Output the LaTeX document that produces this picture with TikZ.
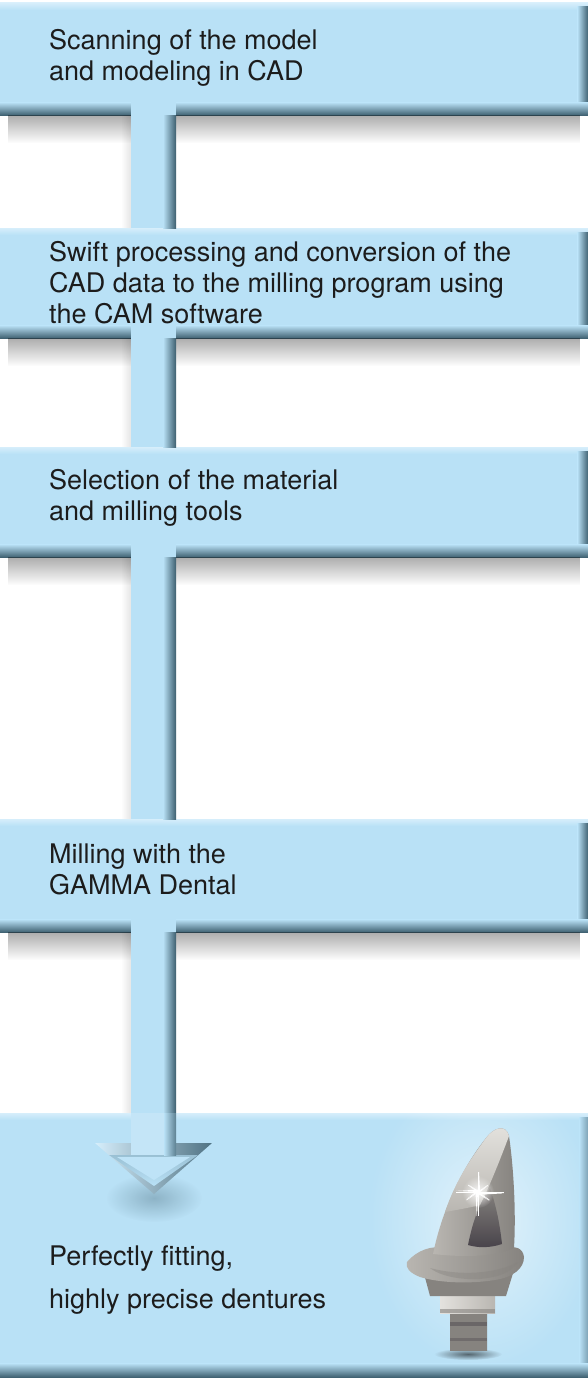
\documentclass[tikz,border=0pt]{standalone}
\usepackage{fontspec}
\setmainfont{TeX Gyre Heros}
\usetikzlibrary{calc,fadings}
\definecolor{boxblue}{HTML}{B9E1F6}
\definecolor{boxlight}{HTML}{D6EEFB}
\definecolor{edgedark}{HTML}{3D5F6F}
\definecolor{txtcol}{HTML}{1C1C1C}
\definecolor{mlight}{HTML}{E4E2DE}
\definecolor{mmid}{HTML}{B9B6B1}
\definecolor{mdark}{HTML}{86837F}
\definecolor{mvdark}{HTML}{48434A}
\tikzfading[name=fadedownward, top color=transparent!0, bottom color=transparent!100]
\tikzfading[name=faderight, left color=transparent!100, right color=transparent!0]
\tikzfading[name=radialfade, inner color=transparent!0, outer color=transparent!100]
\tikzset{
  boxnode/.style={rectangle, fill=boxblue, inner sep=0pt, minimum width=588pt, anchor=north west},
  steptext/.style={anchor=west, inner sep=0pt, align=left, text=txtcol, font=\fontsize{27}{31}\selectfont},
  lasttext/.style={steptext, font=\fontsize{27}{43}\selectfont},
}
\newcommand\fbdeco[1]{%
  \shade[top color=boxlight,bottom color=boxblue] (#1.north west) rectangle ($(#1.north east)+(0,7)$);
  \shade[left color=boxblue,right color=edgedark] ($(#1.north east)+(-11,4)$) rectangle (#1.south east);
  \shade[top color=boxblue,bottom color=edgedark] ($(#1.south west)+(0,-13)$) rectangle (#1.south east);
}
\newcommand\fbshadow[1]{%
  \fill[black,opacity=0.32,path fading=fadedownward] ($(#1.south west)+(8,0)$) rectangle ($(#1.south east)+(-8,28)$);
}
\newcommand\stripseg[2]{%
  \fill[black,opacity=0.10,path fading=faderight] ($(#1.south west)+(121,0)$) rectangle ($(#2.north west)+(131,0)$);
  \fill[boxblue] ($(#1.south west)+(131,-13)$) rectangle ($(#2.north west)+(176,0)$);
  \shade[left color=boxblue,right color=edgedark] ($(#1.south west)+(163,0)$) rectangle ($(#2.north west)+(176,0)$);
}
\begin{document}
\begin{tikzpicture}[x=1pt,y=-1pt]
\useasboundingbox (0,0) rectangle (588,1378);
\fill[white] (0,0) rectangle (588,1378);

% boxes
\node[boxnode, minimum height=112pt] (b1) at (0,3) {};
\node[boxnode, minimum height=110pt] (b2) at (0,228) {};
\node[boxnode, minimum height=110pt] (b3) at (0,447) {};
\node[boxnode, minimum height=113pt] (b4) at (0,819) {};
\node[boxnode, minimum height=264pt] (b5) at (0,1113) {};
\fbdeco{b1}\fbdeco{b2}\fbdeco{b3}\fbdeco{b4}
\fbshadow{b1}\fbshadow{b2}\fbshadow{b3}\fbshadow{b4}

% connectors
\stripseg{b1}{b2}
\stripseg{b2}{b3}
\stripseg{b3}{b4}
\stripseg{b4}{b5}

% last box
\shade[top color=boxlight,bottom color=boxblue] (b5.north west) rectangle ($(b5.north east)+(0,7)$);
\fill[white,opacity=0.6,path fading=radialfade] (482,1220) ellipse (115 and 150);
\shade[left color=boxblue,right color=edgedark!50!boxblue] ($(b5.north east)+(-9,4)$) rectangle (b5.south east);
\shade[top color=boxblue,bottom color=edgedark] ($(b5.south west)+(0,-14)$) rectangle (b5.south east);

% strip end and arrow head
\coordinate (sl) at ($(b5.north west)+(131,0)$);
\coordinate (sr) at ($(b5.north west)+(176,30)$);
\coordinate (ahl) at ($(b5.north west)+(95,30)$);
\coordinate (ahr) at ($(b5.north west)+(212,30)$);
\coordinate (ahtip) at ($(b5.north west)+(154,81)$);
\fill[boxblue!85!white] (sl) rectangle (sr);
\shade[left color=boxblue,right color=edgedark!75!boxblue] ($(sl)+(33,0)$) rectangle (sr);
\fill[edgedark,opacity=0.35,path fading=radialfade] ($(ahtip)+(0,4)$) ellipse (48 and 24);
\shade[left color=boxlight,right color=edgedark!85!boxblue] (ahl) -- (ahr) -- (ahtip) -- cycle;
\shade[top color=boxblue!75!edgedark, bottom color=boxblue] ($(ahl)+(14,12)$) -- ($(ahr)+(-14,12)$) -- ($(ahtip)+(0,-8)$) -- cycle;
\fill[boxblue!92!white] ($(ahl)+(22,14)$) -- ($(ahr)+(-22,14)$) -- ($(ahtip)+(0,-14)$) -- cycle;
\fill[boxblue!85!white] ($(ahl)+(36,0)$) rectangle ($(ahr)+(-36,12)$);
\shade[left color=boxblue,right color=edgedark!75!boxblue] ($(ahr)+(-48,0)$) rectangle ($(ahr)+(-36,12)$);

% implant
\fill[black,opacity=0.55,path fading=radialfade] (468,1354) ellipse (34 and 6);
\shade[left color=mdark,middle color=mlight,right color=mdark] (450,1308) rectangle (487,1350);
\fill[mdark] (450,1350) arc[start angle=180,end angle=360,x radius=18.5,y radius=4];
\fill[mvdark,opacity=0.45] (450,1322) rectangle (487,1326);
\fill[mvdark,opacity=0.35] (450,1338) rectangle (487,1341);
\shade[left color=mlight,middle color=mvdark,right color=mmid] (440,1290) rectangle (495,1313);
\fill[mdark,opacity=0.6] (440,1309) rectangle (495,1313);
\shade[left color=mdark,middle color=mlight,right color=mdark] (423,1270) -- (514,1270) -- (506,1296) -- (430,1296) -- cycle;
\shade[left color=mmid,middle color=mlight,right color=mdark]
  (407,1262) .. controls (417,1250) and (432,1245) .. (446,1248)
  .. controls (466,1254) and (488,1256) .. (505,1249)
  .. controls (515,1245) and (523,1248) .. (524,1257)
  .. controls (524,1268) and (514,1277) .. (495,1280)
  .. controls (470,1284) and (440,1283) .. (420,1277)
  .. controls (410,1273) and (405,1268) .. (407,1262) -- cycle;
\fill[mdark,opacity=0.4] (430,1268) .. controls (460,1276) and (495,1274) .. (518,1262)
  .. controls (512,1272) and (500,1277) .. (480,1279) .. controls (460,1280) and (440,1276) .. (430,1268) -- cycle;
\shade[left color=mmid,middle color=mlight,right color=mdark]
  (433,1254) .. controls (442,1210) and (462,1168) .. (486,1138)
  .. controls (494,1127) and (506,1124) .. (509,1136)
  .. controls (514,1170) and (516,1215) .. (514,1248)
  .. controls (495,1256) and (470,1258) .. (433,1254) -- cycle;
\shade[top color=mlight,bottom color=mmid]
  (445,1212) .. controls (456,1180) and (470,1160) .. (486,1138)
  .. controls (494,1127) and (506,1124) .. (509,1136)
  .. controls (500,1160) and (488,1190) .. (480,1205)
  .. controls (468,1208) and (456,1210) .. (445,1212) -- cycle;
\shade[top color=mdark,bottom color=mvdark]
  (468,1245) .. controls (472,1225) and (478,1205) .. (490,1188)
  .. controls (496,1205) and (500,1225) .. (502,1244)
  .. controls (490,1248) and (478,1248) .. (468,1245) -- cycle;
\fill[white,opacity=0.9,path fading=radialfade] (478,1192) circle (16);
\foreach \a/\l in {0/26,90/24,180/22,270/20,35/14,145/14,215/12,325/12}{
  \fill[white] (478,1192) -- ++(\a+3:\l) -- ++(\a+180:0.1) -- ++(\a-3:-\l) -- cycle;
  \draw[white,line width=0.6pt] (478,1192) -- ++(\a:\l);
}

% texts
\node[steptext] (t1) at (49,58) {Scanning of the model\\and modeling in CAD};
\node[steptext] (t2) at (49,283) {Swift processing and conversion of the\\CAD data to the milling program using\\the CAM software};
\node[steptext] (t3) at (49,498) {Selection of the material\\and milling tools};
\node[steptext] (t4) at (49,869) {Milling with the\\GAMMA Dental};
\node[lasttext] (t5) at (49,1280) {Perfectly fitting,\\highly precise dentures};
\end{tikzpicture}
\end{document}
